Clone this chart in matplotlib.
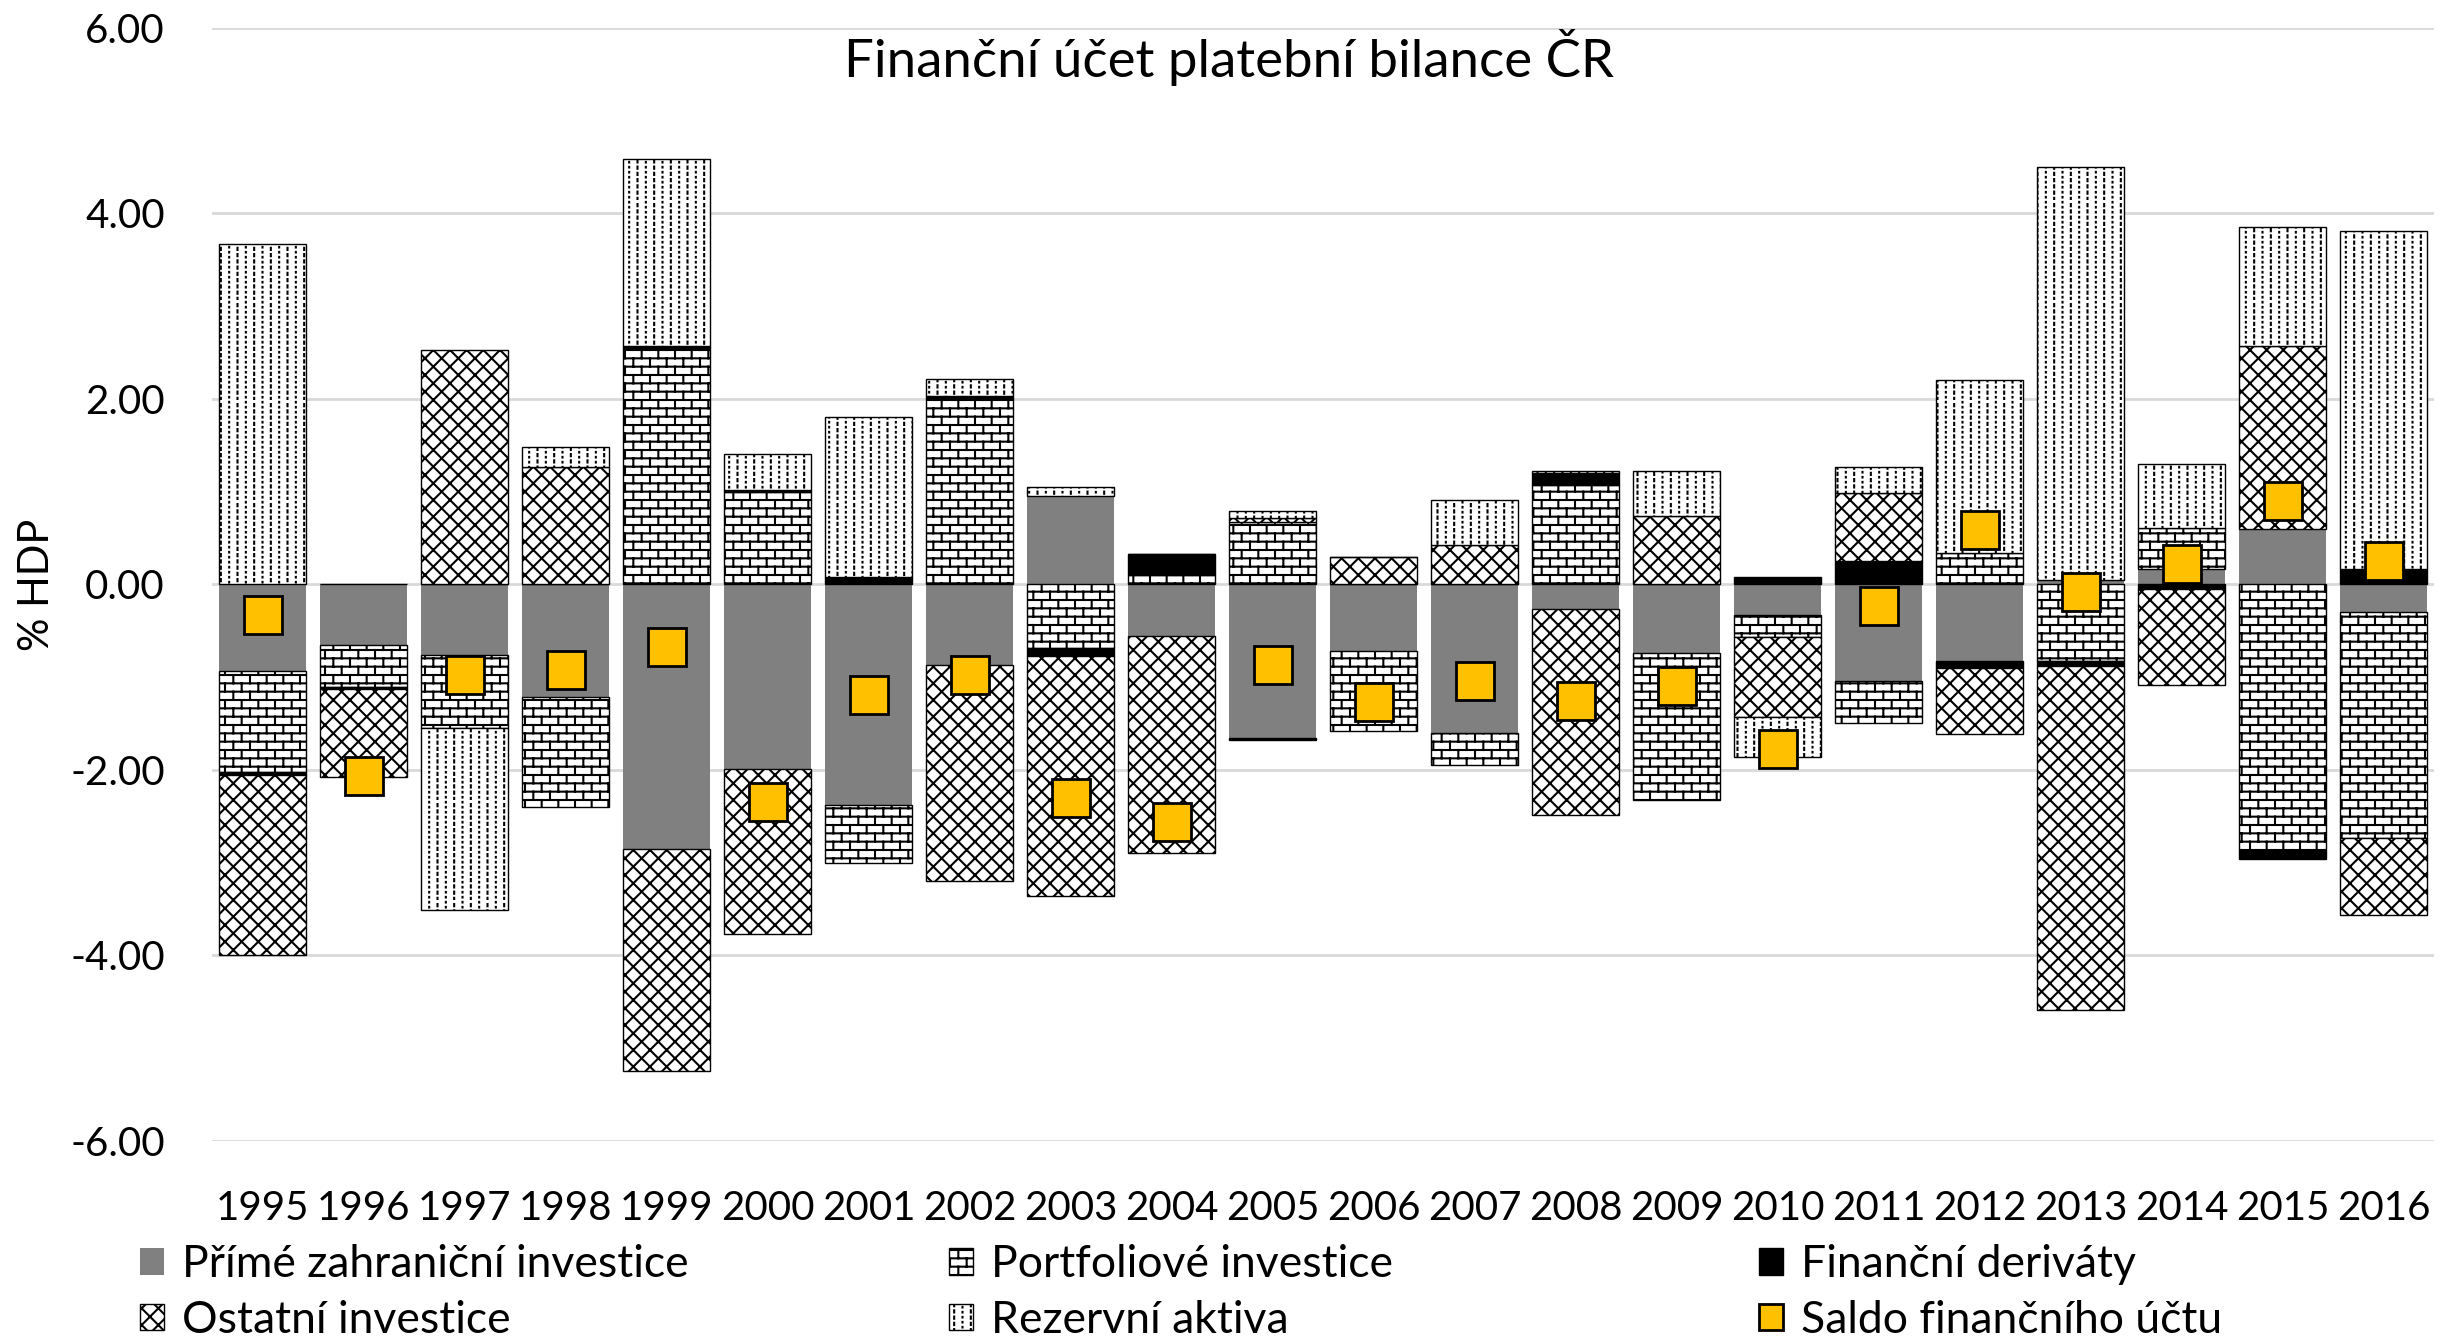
import warnings
warnings.filterwarnings("ignore")
import numpy as np
import matplotlib
matplotlib.use("Agg")
import matplotlib.pyplot as plt
import matplotlib.hatch as mhatch
from matplotlib.patches import Patch

# ---------------- data ----------------
years = [str(y) for y in range(1995, 2017)]

pzi = [-0.93, -0.65, -0.76, -1.21, -2.85, -1.99, -2.38, -0.87, 0.95, -0.56, -1.65,
       -0.72, -1.60, -0.26, -0.74, -0.33, -1.04, -0.83, 0.05, 0.17, 0.60, -0.30]
portfolio = [-1.09, -0.46, -0.79, -1.19, 2.55, 1.00, -0.62, 2.00, -0.69, 0.10, 0.67,
             -0.86, -0.35, 1.07, -1.58, -0.24, -0.45, 0.34, -0.83, 0.44, -2.86, -2.43]
derivaty = [-0.03, -0.02, 0.0, 0.0, 0.02, 0.02, 0.08, 0.03, -0.08, 0.23, -0.03,
            0.0, 0.0, 0.13, 0.0, 0.08, 0.25, -0.07, -0.045, -0.05, -0.10, 0.17]
ostatni = [-1.95, -0.95, 2.53, 1.27, -2.39, -1.78, 0.0, -2.33, -2.59, -2.33, 0.05,
           0.30, 0.43, -2.23, 0.74, -0.86, 0.74, -0.71, -3.71, -1.03, 1.97, -0.83]
rezervni = [3.67, 0.0, -1.96, 0.21, 2.02, 0.39, 1.73, 0.19, 0.10, 0.0, 0.07,
            0.0, 0.48, 0.02, 0.48, -0.43, 0.28, 1.86, 4.45, 0.69, 1.28, 3.64]
saldo = [-0.33, -2.07, -0.98, -0.92, -0.67, -2.35, -1.19, -0.98, -2.30, -2.56, -0.87,
         -1.27, -1.04, -1.26, -1.09, -1.77, -0.23, 0.59, -0.08, 0.22, 0.90, 0.25]

labels = ["Přímé zahraniční investice", "Portfoliové investice", "Finanční deriváty",
          "Ostatní investice", "Rezervní aktiva", "Saldo finančního účtu"]
title = "Finanční účet platební bilance ČR"
ylabel = "% HDP"
yticks = [-6, -4, -2, 0, 2, 4, 6]

# ---------------- custom hatches ----------------
class _SegHatch(mhatch.HatchPatternBase):
    char = None
    def __init__(self, hatch, density):
        n = hatch.count(self.char) if self.char else 0
        self.segs = self.make_segments() if n else []
        self.num_vertices = 2 * len(self.segs)
    def make_segments(self):
        return []
    def set_vertices_and_codes(self, vertices, codes):
        for i, (p0, p1) in enumerate(self.segs):
            vertices[2 * i] = p0
            vertices[2 * i + 1] = p1
            codes[2 * i] = mhatch.Path.MOVETO
            codes[2 * i + 1] = mhatch.Path.LINETO

class BrickHatch(_SegHatch):
    char = 'B'
    def make_segments(self):
        rows, cols = 12, 6
        segs = []
        for r in range(rows + 1):
            segs.append(((0.0, r / rows), (1.0, r / rows)))
        for r in range(rows):
            off = 0.5 * (r % 2)
            for k in range(cols + 1):
                xx = (k + off) / cols
                if 0.0 <= xx <= 1.0:
                    segs.append(((xx, r / rows), (xx, (r + 1) / rows)))
        return segs

class DiamondHatch(_SegHatch):
    char = 'D'
    def make_segments(self):
        n = 6
        segs = []
        for k in range(-n, n + 1):
            c = k / n
            segs.append(((0.0, c), (1.0, 1.0 + c)))
            segs.append(((0.0, 1.0 + c), (1.0, c)))
        return segs

class DotVertHatch(_SegHatch):
    char = 'V'
    def make_segments(self):
        ncol = 12
        segs = []
        for c in range(ncol):
            xx = (c + 0.5) / ncol
            if c % 2 == 0:
                step, L, off = 1 / 16, 0.022, 0.0
            else:
                step, L, off = 1 / 20, 0.006, 1 / 40
            y = off
            while y < 1.0 - 1e-9:
                segs.append(((xx, y), (xx, y + L)))
                y += step
        return segs

mhatch._hatch_types.extend([BrickHatch, DiamondHatch, DotVertHatch])

# ---------------- style ----------------
FONT = ["Lato", "DejaVu Sans"]
plt.rcParams['font.family'] = FONT
plt.rcParams['hatch.linewidth'] = 1.5

fig = plt.figure(figsize=(24.4, 13.37), dpi=100)
ax = fig.add_axes([212 / 2440, 1 - 1141 / 1337, (2434 - 212) / 2440, (1141 - 28) / 1337])

x = np.arange(len(years))
width = 0.86

series = [
    (pzi, dict(color="#808080", edgecolor="none", hatch=None)),
    (portfolio, dict(color="white", edgecolor="black", hatch="B")),
    (derivaty, dict(color="black", edgecolor="black", hatch=None)),
    (ostatni, dict(color="white", edgecolor="black", hatch="D")),
    (rezervni, dict(color="white", edgecolor="black", hatch="V")),
]

pos_base = np.zeros(len(years))
neg_base = np.zeros(len(years))
handles = []
for (vals, st), lab in zip(series, labels):
    v = np.asarray(vals, dtype=float)
    bottom = np.where(v >= 0, pos_base, neg_base)
    lw = 0 if st["edgecolor"] == "none" else 1.0
    ax.bar(x, v, width=width, bottom=bottom, color=st["color"], edgecolor=st["edgecolor"],
           hatch=st["hatch"], linewidth=lw, zorder=2)
    pos_base = pos_base + np.where(v > 0, v, 0)
    neg_base = neg_base + np.where(v < 0, v, 0)
    handles.append(Patch(facecolor=st["color"], edgecolor=st["edgecolor"] if lw else "none",
                         hatch=st["hatch"], linewidth=lw, label=lab))

ax.plot(x, saldo, linestyle="none", marker="s", markersize=27, markerfacecolor="#FFC000",
        markeredgecolor="black", markeredgewidth=2.0, zorder=4)
handles.append(Patch(facecolor="#FFC000", edgecolor="black", linewidth=2.0, label=labels[5]))

ax.set_xlim(-0.5, len(years) - 0.5)
ax.set_ylim(-6, 6)
ax.set_yticks(yticks)
ax.set_yticklabels([f"{t:.2f}" for t in yticks])
ax.set_xticks(x)
ax.set_xticklabels(years)
ax.grid(axis="y", color="#D9D9D9", linewidth=2.0, zorder=0)
ax.set_axisbelow(True)
for s in ax.spines.values():
    s.set_visible(False)
ax.tick_params(axis="both", length=0, labelsize=29, colors="black")
ax.tick_params(axis="y", pad=34)
ax.tick_params(axis="x", pad=35)

ax.set_ylabel(ylabel, fontsize=30)
ax.yaxis.set_label_coords((56 - 212) / (2434 - 212), 0.5)

fig.text(1229 / 2440, 1 - 58 / 1337, title, ha="center", va="center", fontsize=38)

# legend: three columns
order = [(0, 3), (1, 4), (2, 5)]
xs = [140 / 2440, 949 / 2440, 1759 / 2440]
for (i, j), xx in zip(order, xs):
    fig.legend([handles[i], handles[j]], [labels[i], labels[j]], loc="upper left",
               bbox_to_anchor=(xx, 1 - 1244 / 1337), frameon=False, fontsize=32,
               handlelength=0.55, handleheight=0.55, handletextpad=0.4, labelspacing=0.33,
               borderpad=0.0, borderaxespad=0.0)

fig.savefig("out.png", dpi=100)
